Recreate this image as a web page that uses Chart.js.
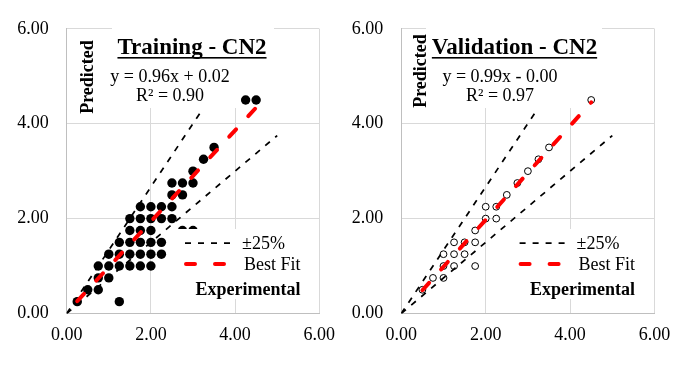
<!DOCTYPE html>
<html>
<head>
<meta charset="utf-8">
<script src="https://cdn.jsdelivr.net/npm/chart.js@4.4.1/dist/chart.umd.min.js"></script>
<style>
  body { margin: 0; background: #fff; }
  canvas { position: absolute; top: 0; }
  #trainChart { left: 0; }
  #validChart { left: 350px; }
</style>
</head>
<body>
<canvas id="trainChart" width="350" height="366"></canvas>
<canvas id="validChart" width="349" height="366"></canvas>
<script>
// values
let trainX = [0.25, 1.25, 0.5, 0.75, 0.75, 1.0,
  0.75, 1.0, 1.25, 1.5, 1.75, 2.0,
  1.0, 1.25, 1.5, 1.75, 2.0, 2.25,
  1.25, 1.5, 1.75, 2.0, 2.25,
  1.5, 1.75, 2.0, 2.75, 3.0,
  1.5, 1.75, 2.0, 2.25, 2.5,
  1.75, 2.0, 2.25, 2.5,
  2.5, 2.75,
  2.5, 2.75, 3.0,
  3.0, 3.25, 3.5, 4.25, 4.5];
let trainY = [0.25, 0.25, 0.5, 0.5, 0.75, 0.75,
  1.0, 1.0, 1.0, 1.0, 1.0, 1.0,
  1.25, 1.25, 1.25, 1.25, 1.25, 1.25,
  1.5, 1.5, 1.5, 1.5, 1.5,
  1.75, 1.75, 1.75, 1.75, 1.75,
  2.0, 2.0, 2.0, 2.0, 2.0,
  2.25, 2.25, 2.25, 2.25,
  2.5, 2.5,
  2.75, 2.75, 2.75,
  3.0, 3.25, 3.5, 4.5, 4.5];

let validX = [0.5, 0.75, 1.0, 1.0, 1.25, 1.75, 1.0, 1.25, 1.5, 1.25, 1.5, 1.75,
  1.75, 2.0, 2.25, 2.0, 2.25, 2.5, 2.75, 3.0, 3.25, 3.5, 4.5];
let validY = [0.5, 0.75, 0.75, 1.0, 1.0, 1.0, 1.25, 1.25, 1.25, 1.5, 1.5, 1.5,
  1.75, 2.0, 2.0, 2.25, 2.25, 2.5, 2.75, 3.0, 3.25, 3.5, 4.5];

// +-25% band lines and best fit lines (end points)
let upperX = [0, 3.2];
let upperY = [0, 4.27];
let lowerX = [0, 5];
let lowerY = [0, 3.75];
let fitTrainX = [0.25, 4.5];
let fitTrainY = [0.26, 4.34];
let fitValidX = [0.5, 4.5];
let fitValidY = [0.49, 4.45];

let axisTicks = [0, 2, 4, 6];

const FONT = "'Liberation Serif', 'Times New Roman', serif";

function toPoints(xs, ys){
	return xs.map((x, i) => ({x: x, y: ys[i]}));
}

// text, boxes and legend drawn on top of the plot
function overlayPlugin(cfg){
	return {
		id: 'overlay',
		afterDatasetsDraw(chart){
			let ctx = chart.ctx;
			ctx.save();
			ctx.fillStyle = '#fff';
			cfg.boxes.forEach(b => ctx.fillRect(b[0], b[1], b[2], b[3]));

			ctx.fillStyle = '#000';
			ctx.textAlign = 'center';
			ctx.textBaseline = 'alphabetic';

			ctx.font = 'bold 23px ' + FONT;
			ctx.fillText(cfg.title, cfg.titleX, 54);
			let w = ctx.measureText(cfg.title).width;
			ctx.fillRect(cfg.titleX - w / 2, 57, w, 1.6);

			ctx.font = '18px ' + FONT;
			ctx.fillText(cfg.eq, cfg.eqX, 82);
			ctx.fillText(cfg.r2, cfg.eqX, 101);

			ctx.save();
			ctx.translate(cfg.predX, cfg.predY);
			ctx.rotate(-Math.PI / 2);
			ctx.font = 'bold 18px ' + FONT;
			ctx.textBaseline = 'middle';
			ctx.fillText('Predicted', 0, 0);
			ctx.restore();

			// legend
			let lx = cfg.legX;
			ctx.lineWidth = 1.75;
			ctx.strokeStyle = '#000';
			ctx.setLineDash([6, 7]);
			ctx.beginPath();
			ctx.moveTo(lx, 243);
			ctx.lineTo(lx + 50, 243);
			ctx.stroke();

			ctx.lineWidth = 4;
			ctx.lineCap = 'round';
			ctx.strokeStyle = '#ff0000';
			ctx.setLineDash([9, 20]);
			ctx.beginPath();
			ctx.moveTo(lx + 1, 264);
			ctx.lineTo(lx + 44, 264);
			ctx.stroke();
			ctx.setLineDash([]);

			ctx.textAlign = 'left';
			ctx.font = '18px ' + FONT;
			ctx.fillText('±25%', lx + 57, 249);
			ctx.fillText('Best Fit', lx + 59, 270);

			ctx.textAlign = 'center';
			ctx.font = 'bold 18px ' + FONT;
			ctx.fillText('Experimental', lx + 63, 295);
			ctx.restore();
		}
	};
}

function makeChart(id, points, pointStyle, fitX, fitY, padRight, axisWidth, cfg){
	let ctx = document.getElementById(id).getContext('2d');
	return new Chart(ctx, {
		type: 'scatter',
		data: {
			datasets: [
				{
					data: toPoints(fitX, fitY),
					showLine: true,
					borderColor: '#ff0000',
					borderWidth: 4,
					borderDash: [10, 18],
					borderCapStyle: 'round',
					pointRadius: 0,
					order: 0
				},
				{
					data: toPoints(upperX, upperY),
					showLine: true,
					borderColor: '#000',
					borderWidth: 1.75,
					borderDash: [6, 7],
					pointRadius: 0,
					order: 1
				},
				{
					data: toPoints(lowerX, lowerY),
					showLine: true,
					borderColor: '#000',
					borderWidth: 1.75,
					borderDash: [6, 7],
					pointRadius: 0,
					order: 1
				},
				Object.assign({data: points, order: 2}, pointStyle)
			]
		},
		options: {
			responsive: false,
			animation: false,
			devicePixelRatio: 1,
			layout: { padding: { left: 0, right: padRight, top: 26, bottom: 0 } },
			plugins: { legend: { display: false }, tooltip: { enabled: false } },
			scales: {
				x: {
					min: 0, max: 6,
					afterBuildTicks: s => { s.ticks = axisTicks.map(v => ({value: v})); },
					afterFit: s => { s.height = 52.5; },
					grid: { color: '#d9d9d9', drawTicks: false },
					border: { color: '#bfbfbf' },
					ticks: {
						padding: 11,
						color: '#000',
						font: { family: FONT, size: 18 },
						callback: v => Number(v).toFixed(2)
					}
				},
				y: {
					min: 0, max: 6,
					afterBuildTicks: s => { s.ticks = axisTicks.map(v => ({value: v})); },
					afterFit: s => { s.width = axisWidth; },
					grid: { color: '#d9d9d9', drawTicks: false },
					border: { color: '#bfbfbf' },
					ticks: {
						padding: 18,
						color: '#000',
						font: { family: FONT, size: 18 },
						callback: v => Number(v).toFixed(2)
					}
				}
			}
		},
		plugins: [overlayPlugin(cfg)]
	});
}

window.onload = function(){
	makeChart('trainChart', toPoints(trainX, trainY),
		{ pointRadius: 4.7, pointBackgroundColor: '#000', pointBorderColor: '#000', pointBorderWidth: 0 },
		fitTrainX, fitTrainY, 30.7, 66.7,
		{
			title: 'Training - CN2', titleX: 192,
			eq: 'y = 0.96x + 0.02', r2: 'R² = 0.90', eqX: 170,
			predX: 88, predY: 77, legX: 185,
			boxes: [[112, 27, 162, 34], [100, 61, 140, 47], [176, 229, 136, 70]]
		});

	makeChart('validChart', toPoints(validX, validY),
		{ pointRadius: 3.4, pointBackgroundColor: '#fff', pointBorderColor: '#000', pointBorderWidth: 1 },
		fitValidX, fitValidY, 44.5, 51.3,
		{
			title: 'Validation - CN2', titleX: 164.5,
			eq: 'y = 0.99x - 0.00', r2: 'R² = 0.97', eqX: 150,
			predX: 71, predY: 71, legX: 169.6,
			boxes: [[76, 27, 176, 34], [85, 61, 136, 47], [160, 229, 136, 70]]
		});
}
</script>
</body>
</html>
